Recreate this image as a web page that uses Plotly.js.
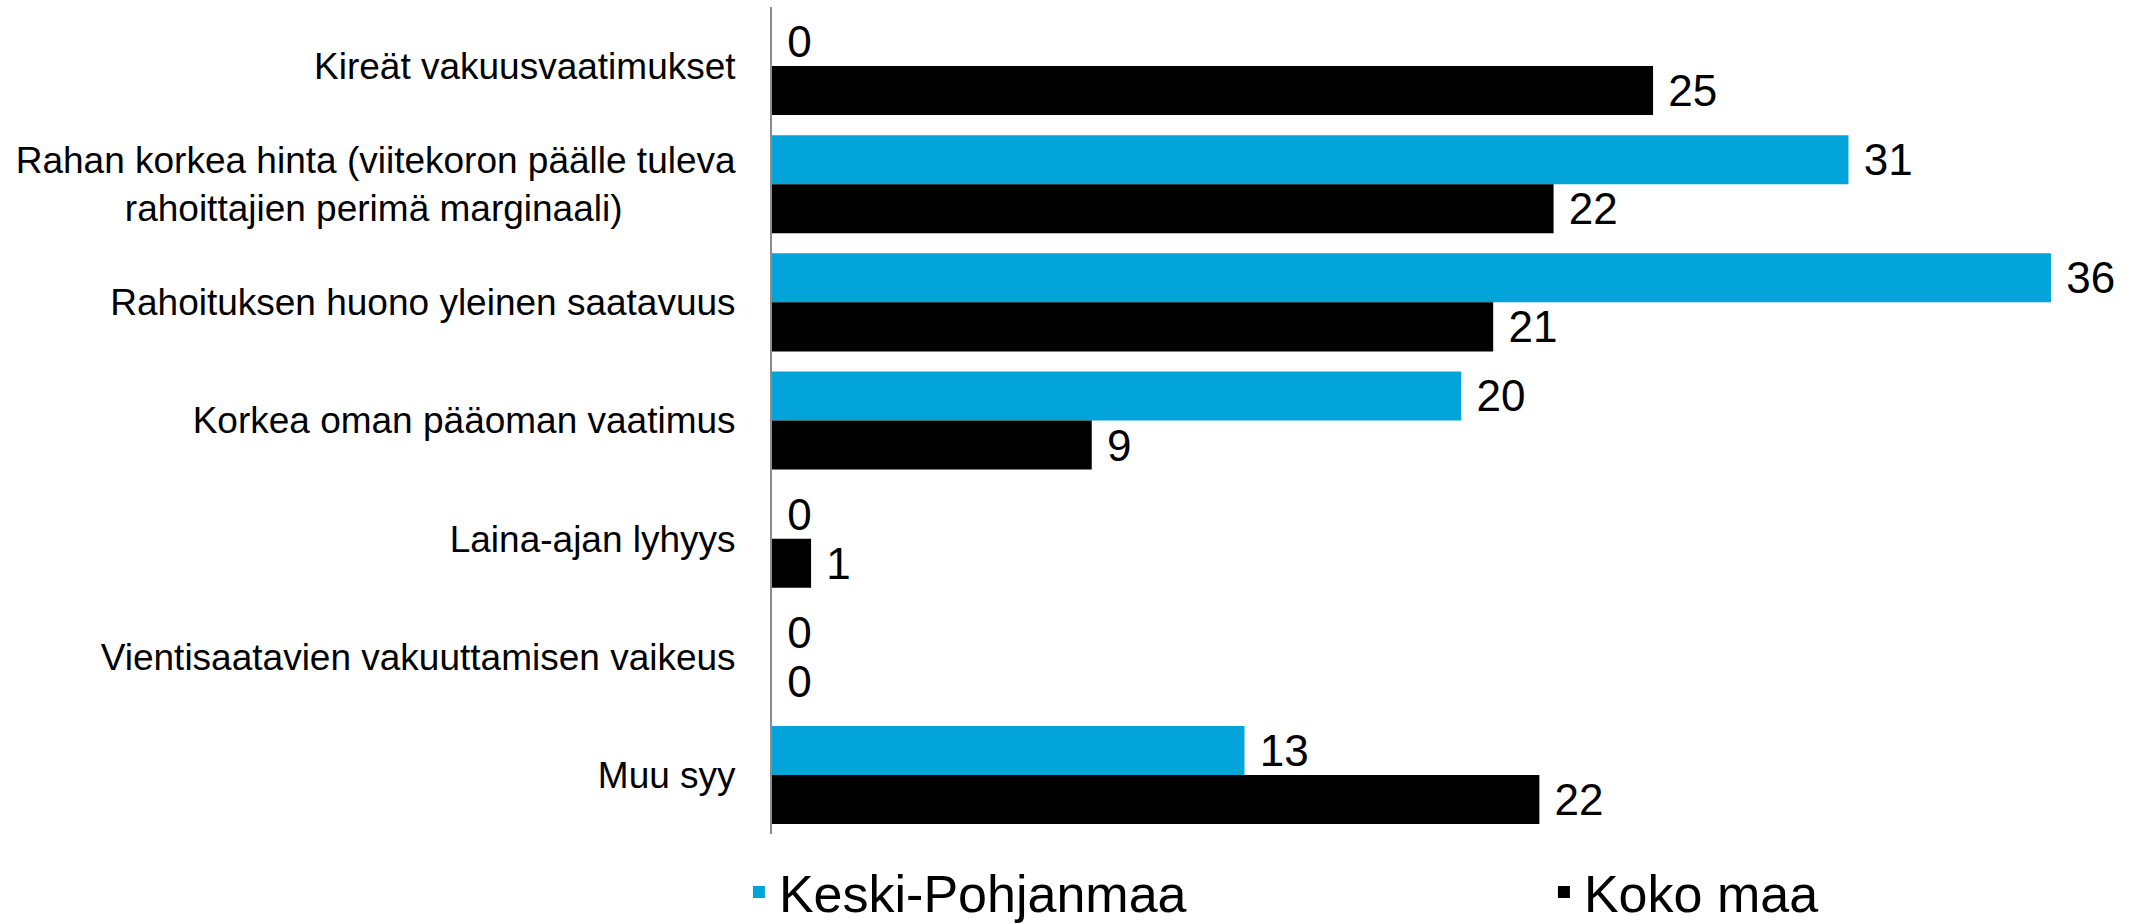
<!DOCTYPE html>
<html>
<head>
<meta charset="utf-8">
<script src="https://cdn.plot.ly/plotly-3.0.1.min.js"></script>
<style>
  html, body { margin: 0; padding: 0; background: #ffffff; }
  #chart { width: 2131px; height: 924px; }
</style>
</head>
<body>
<div id="chart"></div>
<script>
// Categories (top to bottom)
var categories = [
  "Kireät vakuusvaatimukset",
  "Rahan korkea hinta (viitekoron päälle tuleva<br>rahoittajien perimä marginaali)\u00a0\u00a0\u00a0\u00a0\u00a0\u00a0\u00a0\u00a0\u00a0\u00a0\u00a0",
  "Rahoituksen huono yleinen saatavuus",
  "Korkea oman pääoman vaatimus",
  "Laina-ajan lyhyys",
  "Vientisaatavien vakuuttamisen vaikeus",
  "Muu syy"
];

// Series names
var seriesNames = ["Keski-Pohjanmaa", "Koko maa"];

// Bar lengths
var keskiValues = [0, 30.3, 36.0, 19.4, 0, 0, 13.3];
var kokoValues  = [24.8, 22.0, 20.3, 9.0, 1.1, 0, 21.6];

// Printed data labels
var keskiLabels = ["0", "31", "36", "20", "0", "0", "13"];
var kokoLabels  = ["25", "22", "21", "9", "1", "0", "22"];

var FONT = "Arial, 'Liberation Sans', sans-serif";

function pad(arr) { return arr.map(function (s) { return "\u00a0" + s; }); }

var traces = [
  {
    type: "bar",
    orientation: "h",
    name: seriesNames[0],
    legend: "legend",
    y: categories,
    x: keskiValues,
    text: pad(keskiLabels),
    textposition: "outside",
    textangle: 0,
    constraintext: "none",
    cliponaxis: false,
    outsidetextfont: { family: FONT, size: 44, color: "#000000" },
    marker: { color: "#02A4DA", line: { width: 0 } },
    hoverinfo: "skip"
  },
  {
    type: "bar",
    orientation: "h",
    name: seriesNames[1],
    legend: "legend2",
    y: categories,
    x: kokoValues,
    text: pad(kokoLabels),
    textposition: "outside",
    textangle: 0,
    constraintext: "none",
    cliponaxis: false,
    outsidetextfont: { family: FONT, size: 44, color: "#000000" },
    marker: { color: "#000000", line: { width: 0 } },
    hoverinfo: "skip"
  }
];

var legendBase = {
  orientation: "h",
  xanchor: "left",
  y: -0.0705,
  yanchor: "middle",
  font: { family: FONT, size: 52, color: "#000000" },
  bgcolor: "rgba(0,0,0,0)",
  borderwidth: 0
};

var layout = {
  width: 2131,
  height: 924,
  margin: { l: 772, r: 9, t: 7, b: 90, pad: 0, autoexpand: false },
  paper_bgcolor: "#ffffff",
  plot_bgcolor: "#ffffff",
  font: { family: FONT, color: "#000000" },
  barmode: "group",
  bargap: 0.17,
  bargroupgap: 0,
  showlegend: true,
  legend: Object.assign({}, legendBase, { x: -0.0245 }),
  legend2: Object.assign({}, legendBase, { x: 0.5718 }),
  xaxis: {
    range: [0, 38],
    showgrid: false,
    zeroline: false,
    showline: false,
    showticklabels: false,
    ticks: "",
    fixedrange: true
  },
  yaxis: {
    type: "category",
    autorange: "reversed",
    showgrid: false,
    zeroline: false,
    showline: true,
    linecolor: "#8c8c8c",
    linewidth: 2,
    ticks: "",
    ticklabelstandoff: 27,
    tickfont: { family: FONT, size: 37, color: "#000000" },
    fixedrange: true
  }
};

Plotly.newPlot("chart", traces, layout, { staticPlot: true, displayModeBar: false });
</script>
</body>
</html>
